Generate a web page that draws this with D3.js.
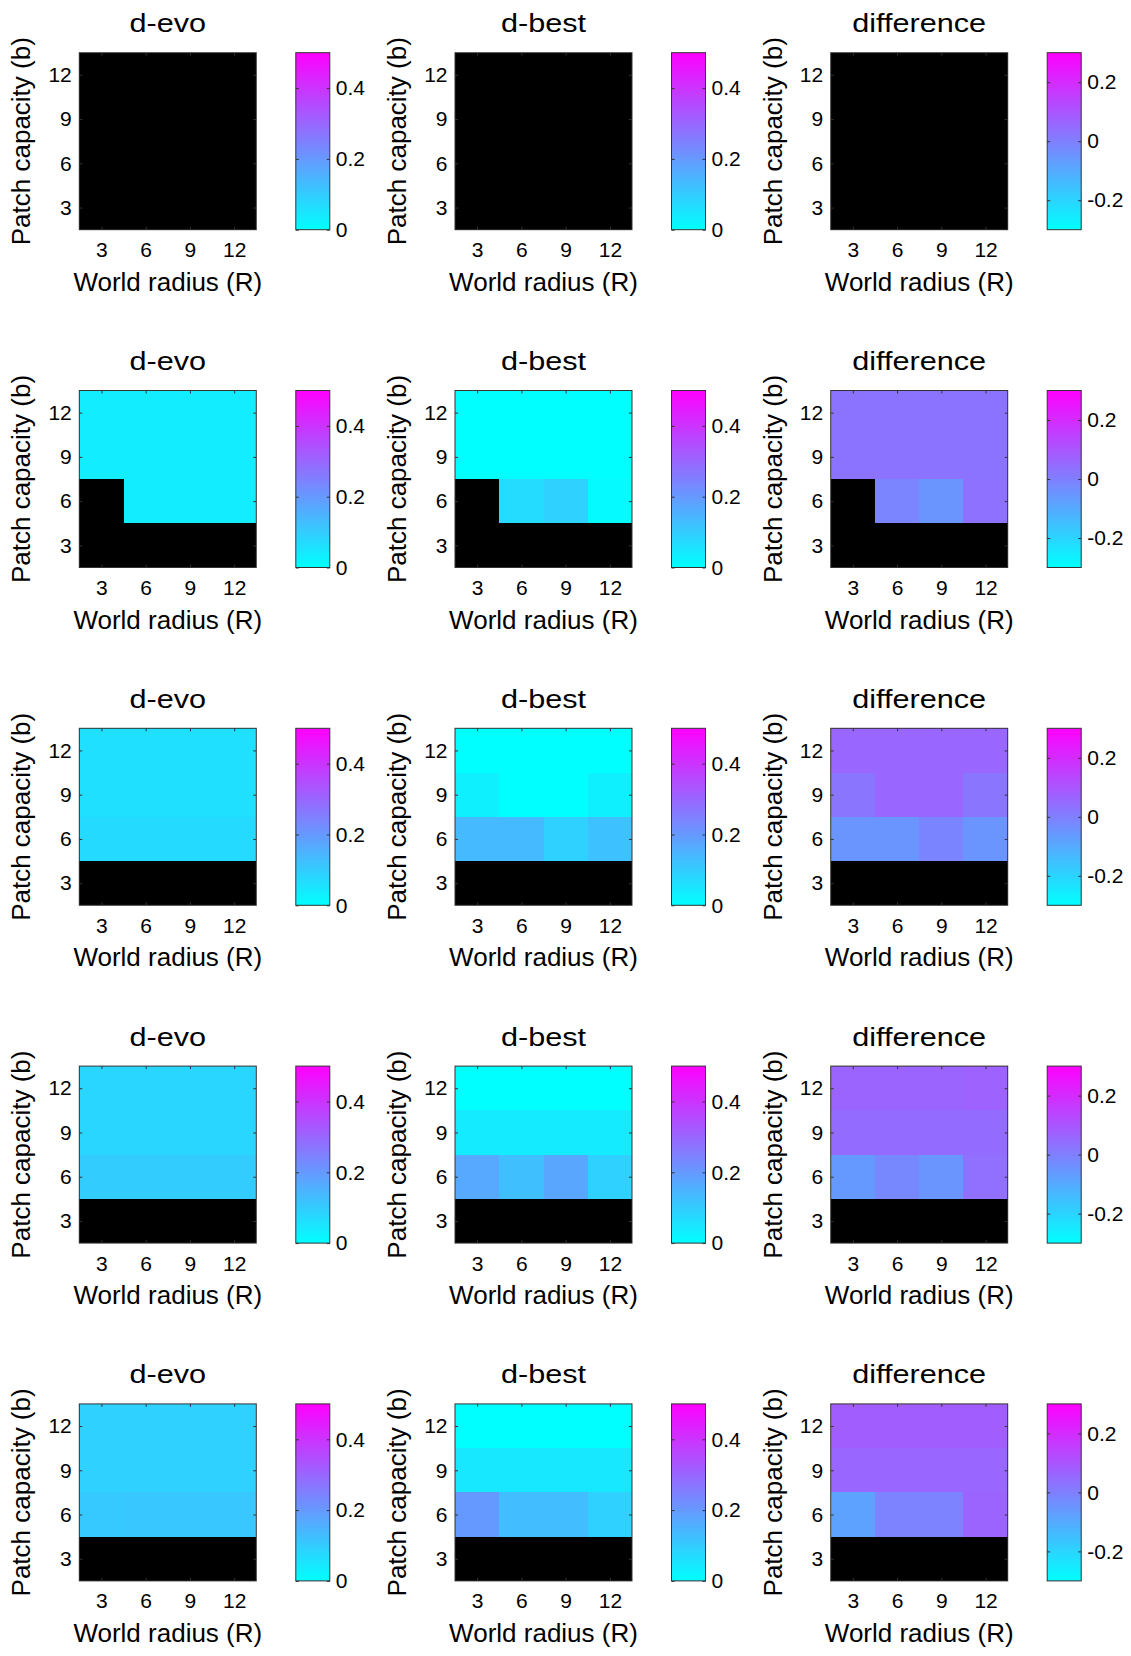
<!DOCTYPE html>
<html>
<head>
<meta charset="utf-8">
<script src="https://cdn.jsdelivr.net/npm/d3@7"></script>
<style>
  body { margin: 0; background: #fff; }
  text { font-family: "Liberation Sans", Arial, Helvetica, sans-serif; fill: #000; }
</style>
</head>
<body>
<script>
// datos: filas de arriba a abajo (b = 12, 9, 6, 3), columnas R = 3, 6, 9, 12
const N = null
const radius = [3, 6, 9, 12]
const capacity = [12, 9, 6, 3]
const axisTicks = [3, 6, 9, 12]
const panelTitles = ["d-evo", "d-best", "difference"]
const rangeD = [0, 0.5]
const rangeDiff = [-0.3, 0.3]
const ticksD = [0, 0.2, 0.4]
const ticksDiff = [-0.2, 0, 0.2]

const dEvo = [
  [[N, N, N, N], [N, N, N, N], [N, N, N, N], [N, N, N, N]],
  [[0.035, 0.035, 0.035, 0.035], [0.035, 0.035, 0.035, 0.035], [N, 0.035, 0.035, 0.035], [N, N, N, N]],
  [[0.06, 0.06, 0.06, 0.06], [0.06, 0.06, 0.06, 0.06], [0.07, 0.07, 0.07, 0.07], [N, N, N, N]],
  [[0.08, 0.08, 0.08, 0.08], [0.08, 0.08, 0.08, 0.08], [0.1, 0.1, 0.1, 0.1], [N, N, N, N]],
  [[0.09, 0.09, 0.09, 0.09], [0.09, 0.09, 0.09, 0.09], [0.105, 0.11, 0.11, 0.11], [N, N, N, N]]
]

const dBest = [
  [[N, N, N, N], [N, N, N, N], [N, N, N, N], [N, N, N, N]],
  [[0, 0, 0, 0], [0, 0, 0, 0], [N, 0.068, 0.09, 0.01], [N, N, N, N]],
  [[0, 0, 0, 0], [0.03, 0, 0, 0.03], [0.135, 0.135, 0.09, 0.12], [N, N, N, N]],
  [[0, 0, 0, 0], [0.04, 0.04, 0.04, 0.04], [0.17, 0.125, 0.175, 0.09], [N, N, N, N]],
  [[0, 0, 0, 0], [0.045, 0.045, 0.045, 0.045], [0.2, 0.13, 0.13, 0.09], [N, N, N, N]]
]

const dDiff = [
  [[N, N, N, N], [N, N, N, N], [N, N, N, N], [N, N, N, N]],
  [[0.03, 0.03, 0.03, 0.03], [0.03, 0.03, 0.03, 0.03], [N, -0.012, -0.05, 0.035], [N, N, N, N]],
  [[0.06, 0.06, 0.06, 0.06], [0.025, 0.06, 0.06, 0.025], [-0.05, -0.05, -0.01, -0.05], [N, N, N, N]],
  [[0.065, 0.065, 0.065, 0.07], [0.045, 0.045, 0.045, 0.045], [-0.06, -0.02, -0.05, 0.04], [N, N, N, N]],
  [[0.08, 0.08, 0.08, 0.08], [0.06, 0.06, 0.06, 0.06], [-0.08, -0.005, -0.005, 0.065], [N, N, N, N]]
]

// layout
var width = 1131
var height = 1656
var size = 177           // lado del heatmap
var col0 = 79.3, colStep = 375.7
var row0 = 52.7, rowStep = 337.8
var cbOffset = 216.5, cbW = 34
var tickFont = 21, labelFont = 26

var svg = d3.select("body").append("svg")
  .attr("width", width)
  .attr("height", height)

// gradiente "cool" (cian -> magenta)
var grad = svg.append("defs").append("linearGradient")
  .attr("id", "cool")
  .attr("x1", 0).attr("y1", 1).attr("x2", 0).attr("y2", 0)
grad.append("stop").attr("offset", "0%").attr("stop-color", "rgb(0,255,255)")
grad.append("stop").attr("offset", "100%").attr("stop-color", "rgb(255,0,255)")

var x = d3.scaleLinear().domain([1.5, 13.5]).range([0, size])
var y = d3.scaleLinear().domain([1.5, 13.5]).range([size, 0])

function estiloEje(a) {
  a.select(".domain").remove()
  a.selectAll("line").attr("stroke", "#333")
  a.selectAll("text").attr("font-size", tickFont).attr("font-family", null).attr("fill", "#000")
}

function panel(g, matrix, title, range, cbTicks) {
  var color = d3.scaleLinear().domain(range)
    .range(["rgb(0,255,255)", "rgb(255,0,255)"])
    .clamp(true)

  // celdas
  matrix.forEach(function (fila, i) {
    var b = capacity[i]
    g.selectAll(null)
      .data(fila)
      .enter()
      .append("rect")
      .attr("x", (d, j) => x(radius[j] - 1.5))
      .attr("y", y(b + 1.5))
      .attr("width", (d, j) => x(radius[j] + 1.5) - x(radius[j] - 1.5))
      .attr("height", y(b - 1.5) - y(b + 1.5))
      .attr("fill", d => d === null ? "#000" : color(d))
      .attr("shape-rendering", "crispEdges")
  })

  // ejes con ticks hacia dentro
  estiloEje(g.append("g").attr("transform", "translate(0," + size + ")")
    .call(d3.axisBottom(x).tickValues(axisTicks).tickSize(-3).tickPadding(12.5)))
  estiloEje(g.append("g")
    .call(d3.axisLeft(y).tickValues(axisTicks).tickSize(-3).tickPadding(7.5)))
  estiloEje(g.append("g")
    .call(d3.axisTop(x).tickValues(axisTicks).tickSize(-3).tickFormat("")))
  estiloEje(g.append("g").attr("transform", "translate(" + size + ",0)")
    .call(d3.axisRight(y).tickValues(axisTicks).tickSize(-3).tickFormat("")))

  g.append("rect")
    .attr("width", size).attr("height", size)
    .attr("fill", "none").attr("stroke", "#333").attr("stroke-width", 1)

  // titulos
  g.append("text")
    .attr("transform", "translate(" + size / 2 + ",-20.5) scale(1.2,1)")
    .attr("text-anchor", "middle")
    .attr("font-size", 25.5)
    .text(title)

  g.append("text")
    .attr("x", size / 2).attr("y", size + 61)
    .attr("text-anchor", "middle")
    .attr("font-size", labelFont)
    .text("World radius (R)")

  g.append("text")
    .attr("transform", "translate(-49," + size / 2 + ") rotate(-90)")
    .attr("text-anchor", "middle")
    .attr("font-size", labelFont)
    .text("Patch capacity (b)")

  // barra de color
  var cb = g.append("g").attr("transform", "translate(" + cbOffset + ",0)")
  var escalaCb = d3.scaleLinear().domain(range).range([size, 0])

  cb.append("rect")
    .attr("width", cbW).attr("height", size)
    .attr("fill", "url(#cool)")

  estiloEje(cb.append("g").attr("transform", "translate(" + cbW + ",0)")
    .call(d3.axisRight(escalaCb).tickValues(cbTicks).tickSize(-3).tickPadding(6)
      .tickFormat(d => String(d))))
  estiloEje(cb.append("g")
    .call(d3.axisLeft(escalaCb).tickValues(cbTicks).tickSize(-3).tickFormat("")))

  cb.append("rect")
    .attr("width", cbW).attr("height", size)
    .attr("fill", "none").attr("stroke", "#333").attr("stroke-width", 1)
}

for (let r = 0; r < 5; r++) {
  let filaY = row0 + r * rowStep
  let datos = [dEvo[r], dBest[r], dDiff[r]]
  for (let c = 0; c < 3; c++) {
    let g = svg.append("g")
      .attr("transform", "translate(" + (col0 + c * colStep) + "," + filaY + ")")
    panel(g, datos[c], panelTitles[c],
      c === 2 ? rangeDiff : rangeD,
      c === 2 ? ticksDiff : ticksD)
  }
}
</script>
</body>
</html>
